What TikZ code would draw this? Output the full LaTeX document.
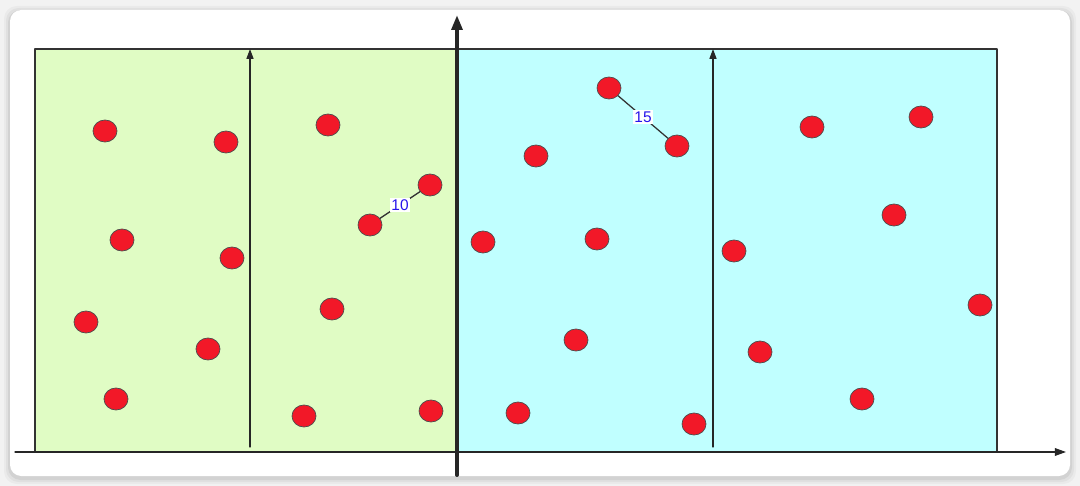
\documentclass[tikz,border=0pt]{standalone}
\usepackage{fontspec}
\setsansfont{Liberation Sans}
\usetikzlibrary{shapes.geometric,arrows.meta}
\begin{document}
\begin{tikzpicture}[x=0.025cm, y=-0.025cm, line cap=round, line join=round,
  dot/.style={ellipse, draw=black!70, line width=0.5pt, fill=dotred,
    minimum width=0.6cm, minimum height=0.55cm, inner sep=0pt},
  dist/.style={fill=white, text=distblue, inner sep=1pt,
    font=\sffamily\fontsize{11}{12}\selectfont}]
  \definecolor{dotred}{RGB}{242,24,40}
  \definecolor{distblue}{RGB}{40,20,235}
  \definecolor{leftgreen}{RGB}{224,252,196}
  \definecolor{rightcyan}{RGB}{192,255,255}
  \useasboundingbox (0,0) rectangle (1080,486);
  \fill[black!5] (0,0) rectangle (1080,486);
  \foreach \s/\o in {6/0.03, 4/0.04, 2/0.06}
    \fill[black, opacity=\o, rounded corners=9] (10-\s,10-\s+2) rectangle (1070+\s,476+\s+2);
  \fill[white, rounded corners=8] (10,10) rectangle (1070,476);
  % the two halves
  \draw[black!80, line width=1pt, fill=leftgreen] (35,49) rectangle (457,452);
  \draw[black!80, line width=1pt, fill=rightcyan] (457,49) rectangle (997,452);
  % axes
  \draw[black!85, line width=0.9pt, -{Triangle[length=8pt,width=5.5pt]}] (15,452) -- (1066,452);
  \draw[black!85, line width=2.8pt, -{Triangle[length=10.5pt,width=7.5pt]}] (457,475) -- (457,15);
  \draw[black!85, line width=0.8pt, -{Triangle[length=7pt,width=5pt]}] (250,447) -- (250,49);
  \draw[black!85, line width=0.8pt, -{Triangle[length=7pt,width=5pt]}] (713,447) -- (713,49);
  % points on the left
  \node[dot] (l1) at (105,131) {};
  \node[dot] (l2) at (226,142) {};
  \node[dot] (l3) at (328,125) {};
  \node[dot] (l4) at (430,185) {};
  \node[dot] (l5) at (370,225) {};
  \node[dot] (l6) at (122,240) {};
  \node[dot] (l7) at (232,258) {};
  \node[dot] (l8) at (86,322) {};
  \node[dot] (l9) at (332,309) {};
  \node[dot] (l10) at (208,349) {};
  \node[dot] (l11) at (116,399) {};
  \node[dot] (l12) at (304,416) {};
  \node[dot] (l13) at (431,411) {};
  % points on the right
  \node[dot] (r1) at (609,88) {};
  \node[dot] (r2) at (677,146) {};
  \node[dot] (r3) at (536,156) {};
  \node[dot] (r4) at (812,127) {};
  \node[dot] (r5) at (921,117) {};
  \node[dot] (r6) at (894,215) {};
  \node[dot] (r7) at (483,242) {};
  \node[dot] (r8) at (597,239) {};
  \node[dot] (r9) at (734,251) {};
  \node[dot] (r10) at (980,305) {};
  \node[dot] (r11) at (576,340) {};
  \node[dot] (r12) at (760,352) {};
  \node[dot] (r13) at (862,399) {};
  \node[dot] (r14) at (518,413) {};
  \node[dot] (r15) at (694,424) {};
  % closest pairs
  \draw[black!80, line width=0.9pt] (l5) -- node[dist] (d10) {10} (l4);
  \draw[black!80, line width=0.9pt] (r1) -- node[dist] (d15) {15} (r2);
\end{tikzpicture}
\end{document}
